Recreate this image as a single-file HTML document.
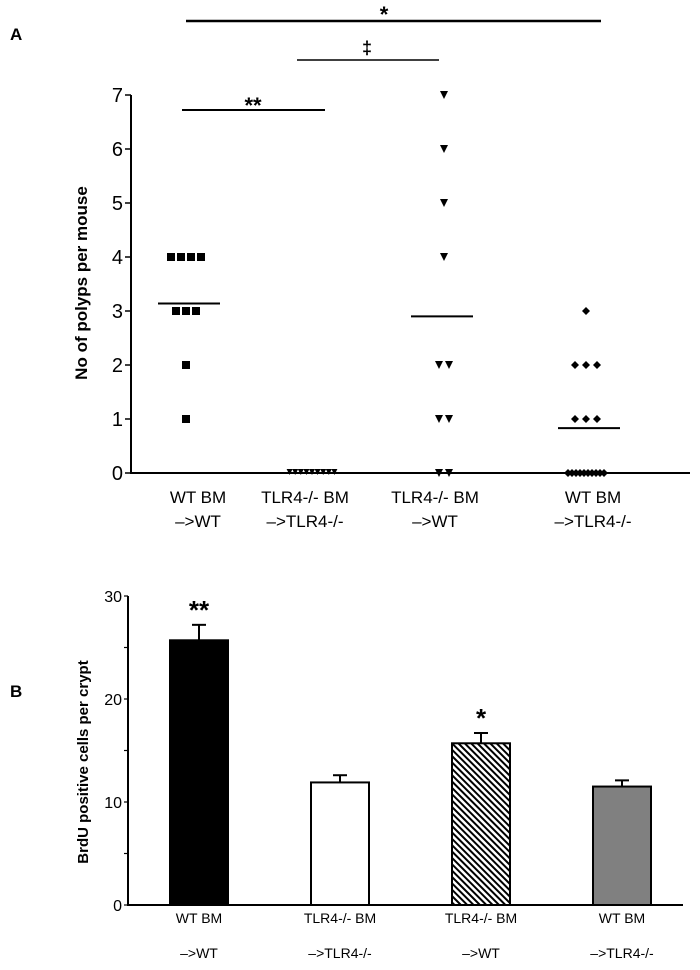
<!DOCTYPE html>
<html><head><meta charset="utf-8"><style>
body{margin:0;background:#fff;}
svg{display:block;font-family:"Liberation Sans",Arial,sans-serif;}
</style></head><body>
<svg id="fig" width="700" height="970" viewBox="0 0 700 970">
<defs>
<pattern id="hatch" patternUnits="userSpaceOnUse" width="4.5" height="4.5" patternTransform="rotate(-45)">
<rect width="4.5" height="4.5" fill="#fff"/><rect width="2" height="4.5" fill="#000"/>
</pattern>
</defs>
<text x="10" y="40" font-size="17" font-weight="bold">A</text>
<text x="10" y="697" font-size="17" font-weight="bold">B</text>
<g id="pa"></g>
<g id="pb"></g>
</svg>
<script>
const ns="http://www.w3.org/2000/svg";
// Panel A data
const aCategories=[["WT BM","–>WT"],["TLR4-/- BM","–>TLR4-/-"],["TLR4-/- BM","–>WT"],["WT BM","–>TLR4-/-"]];
const aG1=[4,4,4,4,3,3,3,2,1];
const aG2=[0,0,0,0,0,0,0,0,0];
const aG3=[7,6,5,4,2,2,1,1,0,0];
const aG4=[3,2,2,2,1,1,1,0,0,0,0,0,0,0,0,0,0];
const aMeans=[3.14,0,2.9,0.83];
const aTicks=[0,1,2,3,4,5,6,7];
// Panel B data
const bCategories=[["WT BM","–>WT"],["TLR4-/- BM","–>TLR4-/-"],["TLR4-/- BM","–>WT"],["WT BM","–>TLR4-/-"]];
const bValues=[25.7,11.9,15.7,11.5];
const bErrors=[1.5,0.7,1.0,0.6];
const bTicks=[0,10,20,30];
const bStars=["**","","*",""];

function mk(p,tag,attrs,name,txt){const e=document.createElementNS(ns,tag);for(const k in attrs)e.setAttribute(k,attrs[k]);


if(txt!==undefined)e.textContent=txt;p.appendChild(e);return e;}

// ---- Panel A
const pa=document.getElementById('pa');
const ay=v=>473-v*(473-95)/7;
const aCx=[186,312,444,586];
mk(pa,'line',{x1:131,y1:95,x2:131,y2:474,stroke:'#000','stroke-width':2},'y-axis');
mk(pa,'line',{x1:130,y1:473,x2:690,y2:473,stroke:'#000','stroke-width':2},'x-axis');
aTicks.forEach(t=>{mk(pa,'line',{x1:125,y1:ay(t),x2:131,y2:ay(t),stroke:'#000','stroke-width':1.5},'y-tick');
mk(pa,'text',{x:123,y:ay(t)+7,'font-size':20,'text-anchor':'end'},'y-tick-label',t);});
mk(pa,'text',{x:0,y:0,'font-size':17,'font-weight':'bold','text-anchor':'middle',transform:'translate(87,283) rotate(-90)'},'y-axis-title','No of polyps per mouse');
aCategories.forEach((c,i)=>{const cx=[198,305,435,593][i];
mk(pa,'text',{x:cx,y:503,'font-size':17,'text-anchor':'middle'},'x-label-line1',c[0]);
mk(pa,'text',{x:cx,y:527,'font-size':17,'text-anchor':'middle'},'x-label-line2',c[1]);});
function place(vals,cx,spFn,draw){const counts={};vals.forEach(v=>counts[v]=(counts[v]||0)+1);const idx={};
vals.forEach(v=>{idx[v]=idx[v]||0;const n=counts[v];const sp=spFn(n);const x=cx+(idx[v]-(n-1)/2)*sp;idx[v]++;draw(x,ay(v));});}
place(aG1,aCx[0],()=>10,(x,y)=>mk(pa,'rect',{x:x-4,y:y-4,width:8,height:8,fill:'#000'},'point-square'));
place(aG2,aCx[1],()=>5.6,(x,y)=>mk(pa,'path',{d:`M${x-3},${y-4}L${x+3},${y-4}L${x},${y+2}Z`,fill:'#000'},'point-triangle-up'));
place(aG3,aCx[2],()=>10,(x,y)=>mk(pa,'path',{d:`M${x-4},${y-4}L${x+4},${y-4}L${x},${y+4}Z`,fill:'#000'},'point-triangle'));
place(aG4,aCx[3],n=>n<=3?11:4,(x,y)=>mk(pa,'path',{d:`M${x},${y-4}L${x+4},${y}L${x},${y+4}L${x-4},${y}Z`,fill:'#000'},'point-diamond'));
aMeans.forEach((m,i)=>{if(i===1)return;const c=[189,0,442,589][i];
mk(pa,'line',{x1:c-31,y1:ay(m),x2:c+31,y2:ay(m),stroke:'#000','stroke-width':2},'mean-line');});
mk(pa,'line',{x1:186,y1:21,x2:601,y2:21,stroke:'#000','stroke-width':2.5},'sig-line-top');
mk(pa,'text',{x:384,y:22,'font-size':22,'font-weight':'bold','text-anchor':'middle'},'sig-star-top','*');
mk(pa,'line',{x1:297,y1:60,x2:439,y2:60,stroke:'#000','stroke-width':1.5},'sig-line-mid');
mk(pa,'text',{x:367,y:54,'font-size':18,'font-weight':'bold','text-anchor':'middle'},'sig-dagger','‡');
mk(pa,'line',{x1:182,y1:110,x2:325,y2:110,stroke:'#000','stroke-width':2},'sig-line-low');
mk(pa,'text',{x:253,y:113,'font-size':22,'font-weight':'bold','text-anchor':'middle'},'sig-double-star','**');

// ---- Panel B
const pb=document.getElementById('pb');
const by=v=>905-v*10.3;
const bx0=[170,311,452,593],bw=58;
mk(pb,'line',{x1:128,y1:by(30),x2:128,y2:906,stroke:'#000','stroke-width':2},'y-axis');
mk(pb,'line',{x1:127,y1:905,x2:683,y2:905,stroke:'#000','stroke-width':2},'x-axis');
[0,5,10,15,20,25,30].forEach(t=>mk(pb,'line',{x1:124,y1:by(t),x2:128,y2:by(t),stroke:'#000','stroke-width':1.2},'y-tick'));
bTicks.forEach(t=>mk(pb,'text',{x:122,y:by(t)+6,'font-size':16,'text-anchor':'end'},'y-tick-label',t));
mk(pb,'text',{x:0,y:0,'font-size':15,'font-weight':'bold','text-anchor':'middle',transform:'translate(88,762) rotate(-90)'},'y-axis-title','BrdU positive cells per crypt');
const fills=['#000','#fff','url(#hatch)','#808080'];
bValues.forEach((v,i)=>{const x=bx0[i],cx=x+bw/2;
mk(pb,'line',{x1:cx,y1:by(v),x2:cx,y2:by(v+bErrors[i]),stroke:'#000','stroke-width':2},'error-bar');
mk(pb,'line',{x1:cx-7,y1:by(v+bErrors[i]),x2:cx+7,y2:by(v+bErrors[i]),stroke:'#000','stroke-width':2},'error-cap');
mk(pb,'rect',{x:x,y:by(v),width:bw,height:905-by(v),fill:fills[i],stroke:'#000','stroke-width':2},'bar-'+(i+1));
if(bStars[i])mk(pb,'text',{x:cx,y:by(v+bErrors[i])-6,'font-size':26,'font-weight':'bold','text-anchor':'middle'},'sig-star',bStars[i]);
mk(pb,'text',{x:cx,y:923,'font-size':14,'text-anchor':'middle'},'x-label-line1',bCategories[i][0]);
mk(pb,'text',{x:cx,y:958,'font-size':14,'text-anchor':'middle'},'x-label-line2',bCategories[i][1]);});
</script>
</body></html>
